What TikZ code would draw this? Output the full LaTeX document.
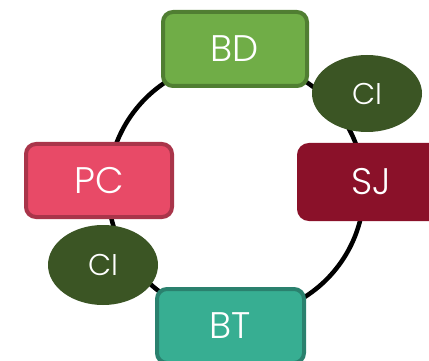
\documentclass[tikz,border=0pt]{standalone}
\usepackage{fontspec}
\setmainfont{Poppins}[UprightFont=* Light]
\usetikzlibrary{shapes.geometric}
\definecolor{bdfill}{HTML}{70AD47}
\definecolor{bdline}{HTML}{507E32}
\definecolor{sjfill}{HTML}{8A1129}
\definecolor{pcfill}{HTML}{E84A67}
\definecolor{pcline}{HTML}{A9354A}
\definecolor{btfill}{HTML}{37AE92}
\definecolor{btline}{HTML}{2A816E}
\definecolor{cifill}{HTML}{3B5524}
\tikzset{
  box/.style={rectangle, rounded corners=10pt, line width=4pt,
    minimum width=144pt, minimum height=74pt, inner sep=0pt,
    text=white, font=\fontsize{37}{40}\selectfont},
  cinode/.style={ellipse, fill=cifill, minimum width=110pt, minimum height=77pt,
    inner sep=0pt, text=white, font=\fontsize{30}{32}\selectfont},
  ring/.style={line width=4.5pt, black}
}
\begin{document}
\begin{tikzpicture}[x=1pt, y=-1pt]
  \useasboundingbox (0,0) rectangle (429,361);
  % the cycle ring behind all shapes
  \coordinate (ctr) at (236,189);
  \draw[ring] (ctr) circle[radius=128pt];
  % stage boxes
  \node[box, fill=bdfill, draw=bdline] (bd) at (235,49) {BD};
  \node[box, fill=sjfill, draw=sjfill] (sj) at (371,182) {SJ};
  \node[box, fill=pcfill, draw=pcline, minimum width=146pt, minimum height=73pt] (pc) at (99,180.5) {PC};
  \node[box, fill=btfill, draw=btline, minimum width=147pt] (bt) at (230.5,326) {BT};
  % intermediate ellipses
  \node[cinode] (ci1) at (367,93.5) {CI};
  \node[cinode, minimum height=80pt] (ci2) at (103,265) {CI};
\end{tikzpicture}
\end{document}
